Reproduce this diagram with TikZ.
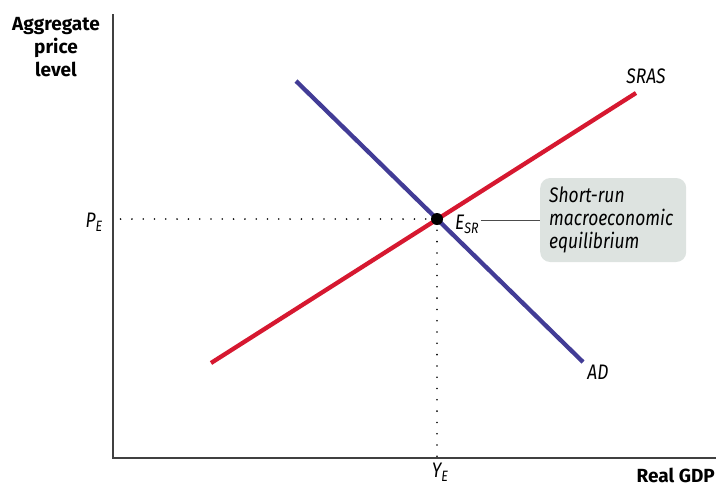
\documentclass[tikz,border=0pt]{standalone}
\usepackage{fontspec}
\setmainfont{Fira Sans}
\newfontfamily\narrowit[FakeStretch=0.83]{Fira Sans Italic}
\usepackage{tikz}
\usetikzlibrary{positioning}
\definecolor{srasred}{RGB}{214,24,48}
\definecolor{adblue}{RGB}{66,60,150}
\definecolor{boxgray}{RGB}{221,227,224}
\newcommand\lowsub[1]{\raisebox{-4.5pt}{\fontsize{15}{15}\selectfont #1}}

\tikzset{
  axis/.style={color=black!75,line width=1.3pt},
  curve/.style={line width=4.3pt},
  guide/.style={line width=1.8pt,dash pattern=on 0pt off 11.3pt,line cap=round},
  lbl/.style={font=\narrowit\fontsize{21}{23}\selectfont,inner sep=0pt},
  axlbl/.style={font=\bfseries\fontsize{19}{23}\selectfont,align=center,inner sep=0pt}
}

\begin{document}
\begin{tikzpicture}[x=1pt,y=-1pt]
\useasboundingbox (0,0) rectangle (717,488);

%axes
\coordinate (o) at (113,458);
\draw[axis] (113,14) -- (o) -- (716,458);
\node[axlbl,anchor=base] (ylab) at (56,76) {Aggregate\\price\\level};
\node[axlbl,anchor=base east] (xlab) at (715,482) {Real GDP};

%curves
\draw[curve,color=srasred] (211,363) coordinate (s0) -- (636,93) coordinate (s1);
\draw[curve,color=adblue] (296,81) coordinate (a0) -- (583,362) coordinate (a1);
\node[lbl,anchor=base] (sraslab) at (646,83) {SRAS};
\node[lbl,anchor=base] (adlab) at (598,379) {AD};

%equilibrium
\coordinate (e) at (437,219);
\draw[guide] (e) -- (113,219);
\draw[guide] (e) -- (437,458);
\fill[black] (e) circle (6);
\node[lbl,anchor=base] (pe) at (94,227) {P\lowsub{E}};
\node[lbl,anchor=base] (ye) at (440,477) {Y\lowsub{E}};
\node[lbl,anchor=base west] (esr) at (455,229) {E\lowsub{SR}};

\node[lbl,fill=boxgray,rounded corners=10pt,align=left,text width=128pt,
      inner xsep=9pt,minimum height=84pt,anchor=west] (box) at (540,220)
      {Short-run\\macroeconomic\\equilibrium};
\draw[color=black!70,line width=0.9pt] (esr.east |- box.west) ++(2,0) coordinate (tick) -- (box.west);

\end{tikzpicture}
\end{document}
